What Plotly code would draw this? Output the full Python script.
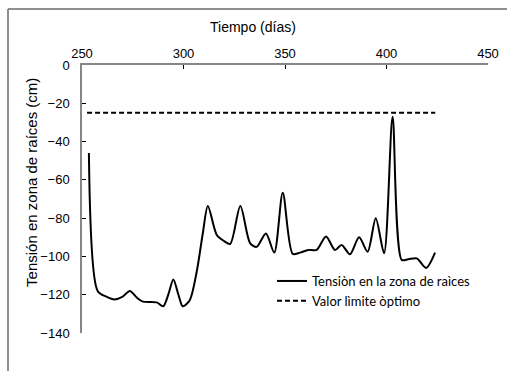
import plotly.graph_objects as go

dias = [253.4, 257.7, 262, 266, 270, 273.6, 277, 280, 286.8, 290, 292.5, 295, 297.5, 299.6, 303,
        306.5, 309.5, 312, 316.4, 320, 323, 328, 332.8, 336, 340.6, 344.7, 348.9, 353.8, 357.4,
        361.5, 365.6, 370.2, 374.6, 377.9, 382, 386.5, 390.7, 394.7, 398.8, 403, 407.5, 410.7,
        414.9, 419.5, 423.9]
tension = [-46, -118, -121, -122.5, -121, -118, -121.5, -123.6, -124, -126, -120, -112, -120, -126, -123,
           -108, -88, -73.6, -88.8, -92, -93.5, -73.6, -93, -95, -88, -98, -66.7, -98.7, -98,
           -96.6, -96.6, -89.6, -96.6, -94, -98.9, -90, -97.5, -80, -98.3, -27, -101.8, -101.5,
           -101, -106, -98]

limite_x = [252.5, 424]
limite_y = [-25, -25]

x_ticks = [250, 300, 350, 400, 450]
y_ticks = [0, -20, -40, -60, -80, -100, -120, -140]

fig = go.Figure()
fig.add_trace(go.Scatter(x=dias, y=tension, mode="lines", line=dict(color="black", width=2, shape="spline", smoothing=0.8),
                         name="Tensiòn en la zona de raìces"))
fig.add_trace(go.Scatter(x=limite_x, y=limite_y, mode="lines", line=dict(color="black", width=2, dash="5px,3px"),
                         name="Valor lìmite òptimo"))

axis_font = dict(family="Liberation Sans, Arial", size=13, color="black")
fig.update_layout(
    width=507, height=371,
    margin=dict(l=82, r=19, t=65, b=38, autoexpand=False),
    paper_bgcolor="white", plot_bgcolor="white",
    showlegend=True,
    legend=dict(x=0.468, y=0.25, xanchor="left", yanchor="top", bgcolor="rgba(0,0,0,0)",
                font=dict(family="Lato, Open Sans", size=13, color="black"),
                tracegroupgap=0, itemwidth=30),
    xaxis=dict(range=[250, 450], side="top", tickvals=x_ticks, ticks="inside", ticklen=4,
               tickcolor="black", showline=True, linecolor="#868686", linewidth=1.5,
               showgrid=False, zeroline=False, tickfont=axis_font, automargin=False),
    yaxis=dict(range=[-140, 0], tickvals=y_ticks, ticks="inside", ticklen=4,
               tickcolor="black", showline=True, linecolor="#868686", linewidth=1.5,
               showgrid=False, zeroline=False, tickfont=axis_font, ticklabelstandoff=8,
               automargin=False),
    annotations=[
        dict(text="Tiempo (días)", xref="paper", yref="paper", x=0.42, y=1, yshift=38,
             showarrow=False, font=dict(family="Liberation Sans, Arial", size=14, color="black"),
             xanchor="center", yanchor="middle"),
        dict(text="Tensión en zona de raíces (cm)", xref="paper", yref="paper", x=0, xshift=-50,
             y=0.56, showarrow=False, textangle=-90,
             font=dict(family="Liberation Sans, Arial", size=15, color="black"),
             xanchor="center", yanchor="middle"),
    ],
    shapes=[
        dict(type="line", xref="paper", yref="paper", x0=(8 - 82) / 406, x1=(507 - 82) / 406,
             y0=1 + (65 - 9) / 268, y1=1 + (65 - 9) / 268, line=dict(color="#6a6a6a", width=1.5)),
        dict(type="line", xref="paper", yref="paper", x0=(8 - 82) / 406, x1=(8 - 82) / 406,
             y0=1 + (65 - 9) / 268, y1=-(371 - 333) / 268, line=dict(color="#6a6a6a", width=1.5)),
    ],
)

fig.write_html("out.html", config={"displayModeBar": False},
               post_script="document.body.style.margin='0';document.body.style.overflow='hidden';")
